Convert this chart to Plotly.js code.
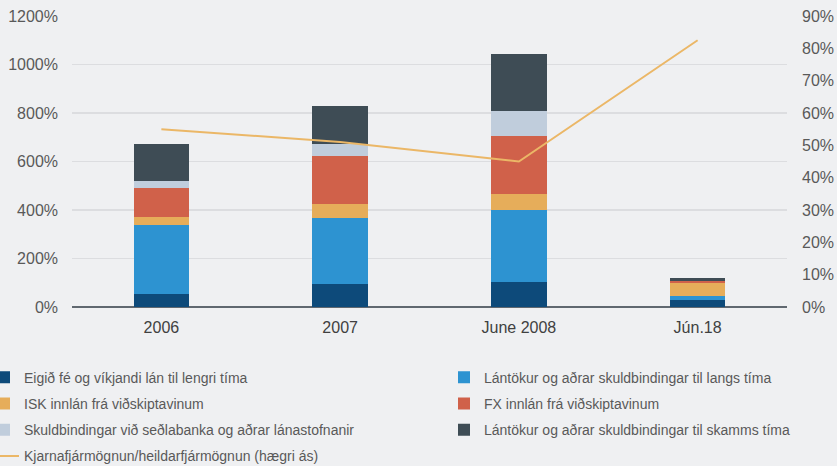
<!DOCTYPE html>
<html><head><meta charset="utf-8">
<script src="https://cdn.plot.ly/plotly-3.0.1.min.js"></script>
<style>html,body{margin:0;padding:0;background:#eff0f2;}</style>
</head><body>
<div id="chart" style="width:837px;height:466px;"></div>
<script>
const categories = ["2006", "2007", "June 2008", "Jún.18"];
const eigidFe = [55, 94, 104, 27];
const lantokurLangs = [282, 274, 298, 20];
const iskInnlan = [34, 58, 64, 51];
const fxInnlan = [119, 197, 241, 8];
const skuldbindingar = [28, 51, 102, 3];
const lantokurSkamms = [156, 156, 235, 11];
const kjarnafjarmognun = [55, 51, 45, 82.5];
const leftTicks = [0, 200, 400, 600, 800, 1000, 1200];
const rightTicks = [0, 10, 20, 30, 40, 50, 60, 70, 80, 90];

const font = "Liberation Sans, Arial, sans-serif";
function bar(name, y, color, legend) {
  return {type: "bar", name: name, x: categories, y: y, marker: {color: color},
    width: 0.31, legend: legend, legendgroup: name, hoverinfo: "skip"};
}
const traces = [
  bar("Eigið fé og víkjandi lán til lengri tíma", eigidFe, "#0d4a7a", "legend"),
  bar("Lántökur og aðrar skuldbindingar til langs tíma", lantokurLangs, "#2d93d1", "legend2"),
  bar("ISK innlán frá viðskiptavinum", iskInnlan, "#e6ad5a", "legend"),
  bar("FX innlán frá viðskiptavinum", fxInnlan, "#d0614a", "legend2"),
  bar("Skuldbindingar við seðlabanka og aðrar lánastofnanir", skuldbindingar, "#c0cddc", "legend"),
  bar("Lántökur og aðrar skuldbindingar til skamms tíma", lantokurSkamms, "#3e4c55", "legend2"),
  {type: "scatter", mode: "lines", name: "Kjarnafjármögnun/heildarfjármögnun (hægri ás)",
   x: categories, y: kjarnafjarmognun, yaxis: "y2", line: {color: "#ebb767", width: 2},
   legend: "legend", legendgroup: "line", hoverinfo: "skip"}
];
const lx = (-16 - 72) / 715;
const ly = -0.188;
const legendCommon = {orientation: "v", yanchor: "top", xanchor: "left", bgcolor: "rgba(0,0,0,0)",
  font: {family: font, size: 14, color: "#595959"}, tracegroupgap: 5, traceorder: "grouped"};
const layout = {
  width: 837, height: 466,
  margin: {l: 72, r: 50, t: 16, b: 158.5, autoexpand: false},
  paper_bgcolor: "#eff0f2", plot_bgcolor: "#eff0f2",
  barmode: "stack",
  font: {family: font, color: "#595959"},
  showlegend: true,
  xaxis: {type: "category", tickfont: {size: 16, color: "#404040"}, showgrid: false,
    showline: false, ticks: "", ticklabelstandoff: 9},
  yaxis: {range: [0, 1200], tickvals: leftTicks, ticktext: leftTicks.map(v => v + "%"),
    tickfont: {size: 16, color: "#595959"}, gridcolor: "#dcdde0", gridwidth: 1.5,
    zeroline: true, zerolinecolor: "#606870", zerolinewidth: 1.5, ticks: "",
    ticklabelstandoff: 13},
  yaxis2: {overlaying: "y", side: "right", range: [0, 90], tickvals: rightTicks,
    ticktext: rightTicks.map(v => v + "%"), tickfont: {size: 16, color: "#595959"},
    showgrid: false, zeroline: false, ticks: "", ticklabelstandoff: 14},
  legend: Object.assign({}, legendCommon, {x: lx, y: ly}),
  legend2: Object.assign({}, legendCommon, {x: (444 - 72) / 715, y: ly})
};
Plotly.newPlot("chart", traces, layout, {displayModeBar: false, staticPlot: true});
</script>
</body></html>
